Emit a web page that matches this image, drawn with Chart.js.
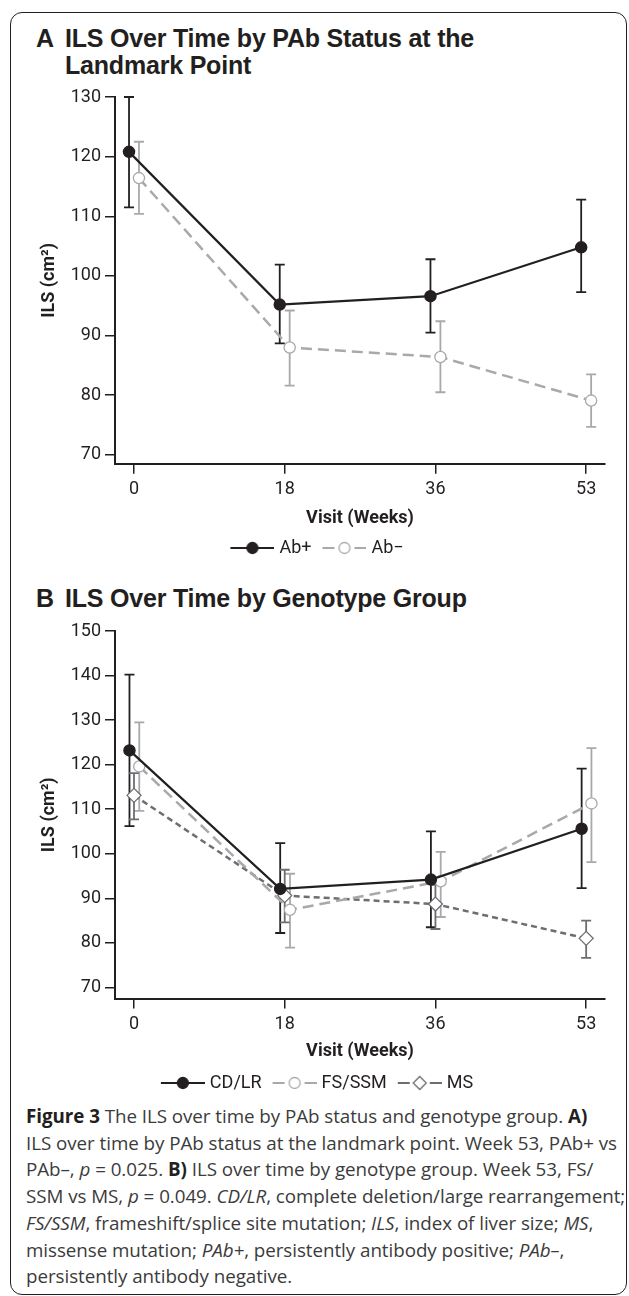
<!DOCTYPE html>
<html>
<head>
<meta charset="utf-8">
<script src="https://cdn.jsdelivr.net/npm/chart.js@4.4.1/dist/chart.umd.min.js"></script>
<style>
  html, body { margin: 0; padding: 0; background: #fff; }
  body { width: 629px; height: 1296px; position: relative; overflow: hidden; }
  #card { position: absolute; left: 10px; top: 12px; width: 617px; height: 1283px; box-sizing: border-box;
          border: 1.5px solid #231f20; border-radius: 12px; }
  .ptitle { position: absolute; left: 0; font-family: "Liberation Sans", Arial, sans-serif; font-weight: bold;
            font-size: 25px; line-height: 26.5px; color: #231f20; white-space: nowrap; letter-spacing: -0.2px; }
  .ptitle .lt { position: absolute; left: 36px; }
  .ptitle .tx { position: absolute; left: 65px; }
  canvas { position: absolute; left: 0; }
  #caption { position: absolute; left: 26px; top: 1103px; width: 600px; font-family: "Open Sans", sans-serif;
             font-size: 18.8px; line-height: 26.7px; color: #3b3b3b; white-space: nowrap; letter-spacing: -0.05px; }
  #caption b { color: #231f20; }
</style>
</head>
<body>
<div id="card"></div>
<div class="ptitle" style="top:25px"><span class="lt">A</span><span class="tx">ILS Over Time by PAb Status at the<br>Landmark Point</span></div>
<canvas id="chartA" width="629" height="490" style="top:77px"></canvas>
<div class="ptitle" style="top:585px"><span class="lt">B</span><span class="tx">ILS Over Time by Genotype Group</span></div>
<canvas id="chartB" width="629" height="491" style="top:611px"></canvas>
<div id="caption">
<b>Figure 3</b> The ILS over time by PAb status and genotype group. <b>A)</b><br>
ILS over time by PAb status at the landmark point. Week 53, PAb+ vs<br>
PAb–, <i>p</i> = 0.025. <b>B)</b> ILS over time by genotype group. Week 53, FS/<br>
SSM vs MS, <i>p</i> = 0.049. <i>CD/LR</i>, complete deletion/large rearrangement;<br>
<i>FS/SSM</i>, frameshift/splice site mutation; <i>ILS</i>, index of liver size; <i>MS</i>,<br>
missense mutation; <i>PAb+</i>, persistently antibody positive; <i>PAb–</i>,<br>
persistently antibody negative.
</div>
<script>
// visits (weeks)
const weeks = ['0', '18', '36', '53'];

// panel A: PAb status
const abPos = [120.8, 95.2, 96.6, 104.8];
const abPosLo = [111.5, 88.7, 90.5, 97.3];
const abPosHi = [130.0, 101.9, 102.8, 112.8];
const abNeg = [116.4, 88.0, 86.4, 79.1];
const abNegLo = [110.4, 81.6, 80.5, 74.7];
const abNegHi = [122.5, 94.2, 92.4, 83.5];

// panel B: genotype group
const cdlr = [123.2, 92.1, 94.2, 105.6];
const cdlrLo = [106.2, 82.2, 83.5, 92.3];
const cdlrHi = [140.2, 102.4, 105.0, 119.1];
const fsssm = [119.6, 87.4, 93.8, 111.3];
const fsssmLo = [109.6, 78.9, 85.8, 98.1];
const fsssmHi = [129.5, 95.5, 100.4, 123.7];
const ms = [113.1, 90.6, 88.7, 81.0];
const msLo = [107.7, 84.6, 83.1, 76.6];
const msHi = [118.1, 96.4, 93.0, 85.0];

const ticksA = [70, 80, 90, 100, 110, 120, 130];
const ticksB = [70, 80, 90, 100, 110, 120, 130, 140, 150];

const BLACK = '#231f20';
const LIGHT = '#a7a9ac';
const DARK = '#6d6e71';
const NARROW = 'Roboto, "Liberation Sans", sans-serif';

function pts(vals, dodge) {
    return vals.map(function (v, i) { return { x: i + dodge, y: v }; });
}

// small picture of line + marker for the legend
function legendSample(color, dash, marker, fill) {
    const c = document.createElement('canvas');
    c.width = 49; c.height = 16;
    const g = c.getContext('2d');
    const cx = 5 + 22, cy = 8;
    g.strokeStyle = color;
    g.lineWidth = 2.2;
    g.beginPath();
    if (dash.length) {
        g.moveTo(5, cy); g.lineTo(cx - 10, cy);
        g.moveTo(cx + 10, cy); g.lineTo(49, cy);
    } else {
        g.moveTo(5, cy); g.lineTo(49, cy);
    }
    g.stroke();
    g.lineWidth = 1.3;
    g.fillStyle = fill;
    g.beginPath();
    if (marker == 'diamond') {
        g.moveTo(cx - 6.5, cy); g.lineTo(cx, cy - 6.5); g.lineTo(cx + 6.5, cy); g.lineTo(cx, cy + 6.5); g.closePath();
    } else {
        g.arc(cx, cy, 5.5, 0, Math.PI * 2);
    }
    g.fill();
    g.stroke();
    return c;
}

const errorBars = {
    id: 'errorBars',
    beforeDatasetsDraw(chart) {
        const ctx = chart.ctx;
        const ys = chart.scales.y;
        chart.data.datasets.forEach(function (ds, i) {
            const meta = chart.getDatasetMeta(i);
            ctx.save();
            ctx.strokeStyle = ds.barColor;
            ctx.lineWidth = 1.8;
            meta.data.forEach(function (p, j) {
                const top = ys.getPixelForValue(ds.hi[j]);
                const bot = ys.getPixelForValue(ds.lo[j]);
                ctx.beginPath();
                ctx.moveTo(p.x, top); ctx.lineTo(p.x, bot);
                ctx.moveTo(p.x - 5, top); ctx.lineTo(p.x + 5, top);
                ctx.moveTo(p.x - 5, bot); ctx.lineTo(p.x + 5, bot);
                ctx.stroke();
            });
            ctx.restore();
        });
    }
};

function makeOptions(yMin, yMax, yTicks, xHeight, xTitlePad) {
    return {
        responsive: false,
        animation: false,
        layout: { padding: { left: 28, right: 24, top: 20, bottom: 0 } },
        plugins: {
            legend: {
                position: 'bottom',
                labels: {
                    usePointStyle: true,
                    pointStyleWidth: 41,
                    padding: 10,
                    color: BLACK,
                    font: { family: NARROW, size: 18 },
                    generateLabels: function (chart) {
                        return chart.data.datasets.map(function (ds, i) {
                            return { text: ds.label, pointStyle: ds.legendImg, datasetIndex: i, fontColor: BLACK, lineWidth: 0 };
                        });
                    }
                }
            },
            tooltip: { enabled: false }
        },
        scales: {
            x: {
                type: 'linear',
                min: -0.126,
                max: 3.125,
                afterFit: function (s) { s.height = xHeight; },
                afterBuildTicks: function (s) { s.ticks = weeks.map(function (w, i) { return { value: i }; }); },
                ticks: {
                    color: BLACK,
                    padding: 5,
                    font: { family: NARROW, size: 18 },
                    callback: function (v) { return weeks[v]; }
                },
                grid: { drawOnChartArea: false, drawTicks: true, tickLength: 10, color: BLACK, lineWidth: 1.5 },
                border: { display: true, color: BLACK, width: 2 },
                title: { display: true, text: 'Visit (Weeks)', color: BLACK, padding: { top: 0, bottom: xTitlePad },
                         font: { family: NARROW, size: 18, weight: 'bold' } }
            },
            y: {
                min: yMin,
                max: yMax,
                afterFit: function (s) { s.width = 87; },
                afterBuildTicks: function (s) { s.ticks = yTicks.map(function (v) { return { value: v }; }); },
                ticks: { color: BLACK, padding: 4, font: { family: NARROW, size: 18 } },
                grid: { drawOnChartArea: false, drawTicks: true, tickLength: 10, color: BLACK, lineWidth: 1.5 },
                border: { display: true, color: BLACK, width: 2 },
                title: { display: true, text: 'ILS (cm²)', color: BLACK, padding: { top: 11, bottom: 0 },
                         font: { family: NARROW, size: 18, weight: 'bold' } }
            }
        }
    };
}

function lineSet(label, vals, lo, hi, dodge, color, barColor, dash, marker, fill, radius) {
    return {
        label: label,
        data: pts(vals, dodge),
        lo: lo,
        hi: hi,
        barColor: barColor,
        borderColor: color,
        borderWidth: dash.length ? 2.5 : 2.2,
        borderDash: dash,
        pointStyle: marker == 'diamond' ? 'rectRot' : 'circle',
        pointRadius: radius,
        pointBorderWidth: 1.3,
        pointBorderColor: color,
        pointBackgroundColor: fill,
        legendImg: legendSample(color, dash, marker, fill),
        clip: false,
        tension: 0
    };
}

function drawCharts() {
    new Chart('chartA', {
        type: 'line',
        data: {
            datasets: [
                lineSet('Ab+', abPos, abPosLo, abPosHi, -0.033, BLACK, BLACK, [], 'circle', BLACK, 5.6),
                lineSet('Ab−', abNeg, abNegLo, abNegHi, 0.033, LIGHT, LIGHT, [11, 6], 'circle', '#fff', 5.6)
            ]
        },
        options: makeOptions(68.5, 130, ticksA, 65.2, 0),
        plugins: [errorBars]
    });

    new Chart('chartB', {
        type: 'line',
        data: {
            datasets: [
                lineSet('CD/LR', cdlr, cdlrLo, cdlrHi, -0.03, BLACK, BLACK, [], 'circle', BLACK, 5.6),
                lineSet('FS/SSM', fsssm, fsssmLo, fsssmHi, 0.035, LIGHT, LIGHT, [11, 6], 'circle', '#fff', 5.6),
                lineSet('MS', ms, msLo, msHi, 0, DARK, DARK, [6, 4], 'diamond', '#fff', 7)
            ]
        },
        options: makeOptions(67.5, 150, ticksB, 65.5, 1.7),
        plugins: [errorBars]
    });
}

drawCharts();
</script>
</body>
</html>
